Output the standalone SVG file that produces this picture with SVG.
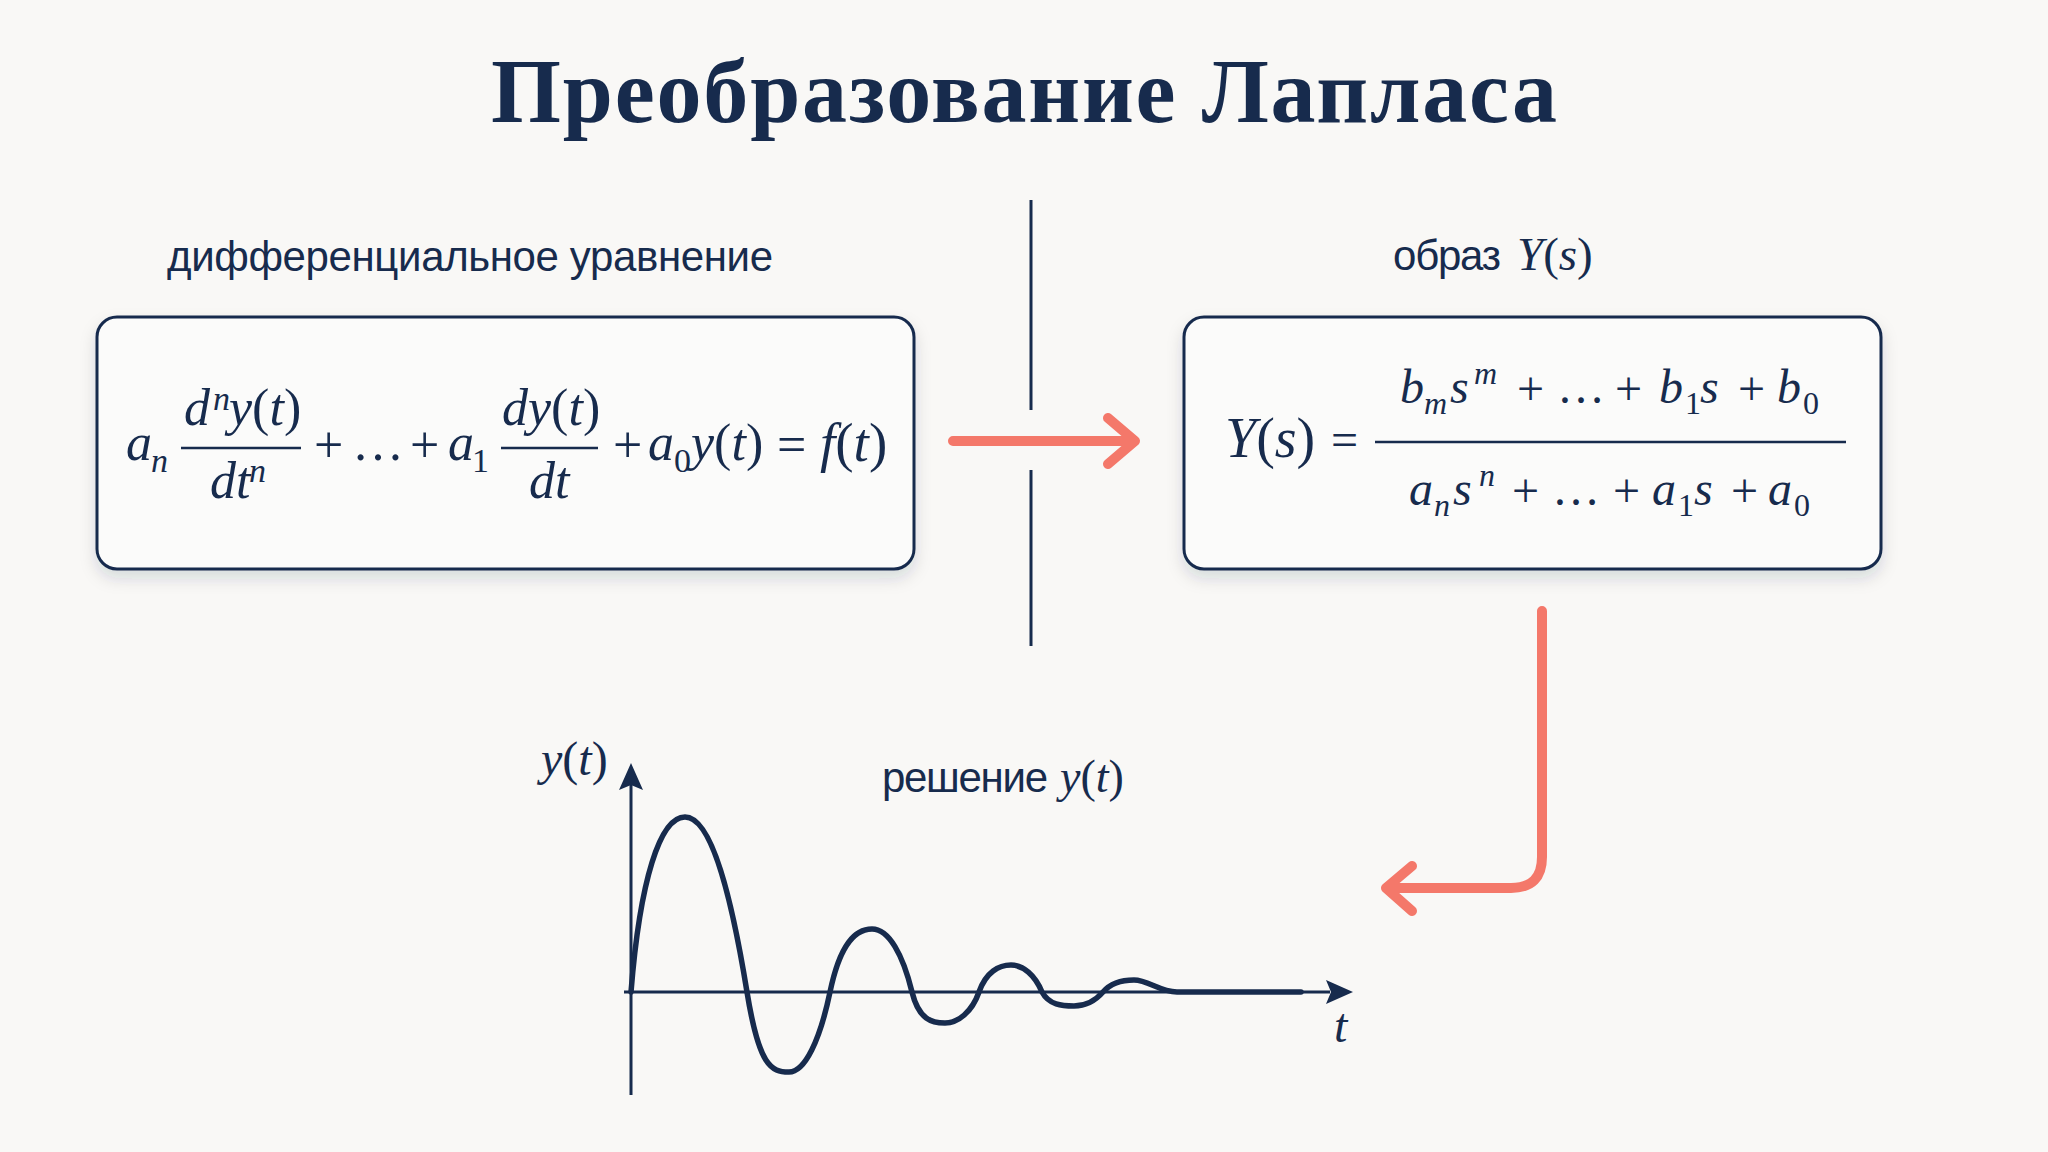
<svg xmlns="http://www.w3.org/2000/svg" width="2048" height="1152" viewBox="0 0 2048 1152">
<defs>
<filter id="sh" x="-10%" y="-10%" width="120%" height="130%">
<feDropShadow dx="0" dy="8" stdDeviation="8" flood-color="#1b2a4a" flood-opacity="0.14"/>
</filter>
<style>
.t{font-family:"Liberation Serif","Times New Roman",serif;fill:#172b4d}
.m{font-family:"Liberation Serif","Times New Roman",serif;fill:#172b4d;font-size:52px}
.mr{font-family:"Liberation Serif","Times New Roman",serif;fill:#172b4d;font-size:48px}
.i{font-style:italic}
.s{font-family:"Liberation Sans",Arial,sans-serif;fill:#172b4d;font-size:42px}
.box{fill:#fbfbfa;stroke:#172b4d;stroke-width:3}
.bar{stroke:#172b4d;stroke-width:2.5}
.red{fill:none;stroke:#f4786a;stroke-width:10;stroke-linecap:round;stroke-linejoin:round}
.ax{stroke:#172b4d;stroke-width:3;fill:none}
.ah{fill:#172b4d}
</style>
</defs>
<rect width="2048" height="1152" fill="#f9f8f6"/>

<text id="title" class="t" x="1024" y="122" font-size="90" font-weight="bold" text-anchor="middle" textLength="1066" lengthAdjust="spacing">Преобразование Лапласа</text>

<line id="divider-top" x1="1031" y1="200" x2="1031" y2="410" stroke="#172b4d" stroke-width="3"/>
<line id="divider-bottom" x1="1031" y1="470" x2="1031" y2="646" stroke="#172b4d" stroke-width="3"/>

<g id="node-ode">
<text class="s" x="167" y="271" textLength="606" lengthAdjust="spacing">дифференциальное уравнение</text>
<rect class="box" x="97" y="317" width="817" height="252" rx="20" filter="url(#sh)"/>
<text class="m"><tspan class="i" x="126" y="460">a</tspan><tspan class="i" x="151" y="472" font-size="34">n</tspan></text>
<text class="m"><tspan class="i" x="184" y="425">d</tspan><tspan class="i" x="213" y="410" font-size="34">n</tspan><tspan class="i" x="229" y="425">y</tspan><tspan>(</tspan><tspan class="i">t</tspan><tspan>)</tspan></text>
<line class="bar" x1="181" y1="448" x2="301" y2="448"/>
<text class="m"><tspan class="i" x="210" y="498">dt</tspan><tspan class="i" x="249" y="482" font-size="34">n</tspan></text>
<text class="m" x="314" y="462">+</text>
<text class="m" x="352" y="460">…</text>
<text class="m" x="410" y="462">+</text>
<text class="m"><tspan class="i" x="448" y="460">a</tspan><tspan x="472" y="472" font-size="34">1</tspan></text>
<text class="m"><tspan class="i" x="502" y="425">dy</tspan><tspan>(</tspan><tspan class="i">t</tspan><tspan>)</tspan></text>
<line class="bar" x1="501" y1="448" x2="598" y2="448"/>
<text class="m" x="529" y="498"><tspan class="i">dt</tspan></text>
<text class="m" x="613" y="462">+</text>
<text class="m"><tspan class="i" x="648" y="460">a</tspan><tspan x="674" y="472" font-size="34">0</tspan><tspan class="i" x="691" y="460">y</tspan><tspan>(</tspan><tspan class="i">t</tspan><tspan>)</tspan></text>
<text class="m" x="777" y="462">=</text>
<text class="m" style="font-size:55px"><tspan class="i" x="820" y="461">f</tspan><tspan>(</tspan><tspan class="i">t</tspan><tspan>)</tspan></text>
</g>

<g id="node-image">
<text class="s" x="1393" y="270" textLength="108" lengthAdjust="spacing">образ</text>
<text class="t" font-size="47" x="1517" y="270"><tspan class="i">Y</tspan>(<tspan class="i">s</tspan>)</text>
<rect class="box" x="1184" y="317" width="697" height="252" rx="20" filter="url(#sh)"/>
<text class="mr" style="font-size:56px"><tspan class="i" x="1225" y="457">Y</tspan><tspan>(</tspan><tspan class="i">s</tspan><tspan>)</tspan></text>
<text class="mr" x="1331" y="456">=</text>
<line class="bar" x1="1375" y1="442" x2="1846" y2="442"/>
<text class="mr"><tspan class="i" x="1400" y="403">b</tspan><tspan class="i" x="1424" y="414" font-size="32">m</tspan><tspan class="i" x="1450" y="403">s</tspan><tspan class="i" x="1474" y="384" font-size="32">m</tspan><tspan x="1517" y="405">+</tspan><tspan x="1557" y="403">…</tspan><tspan x="1615" y="405">+</tspan><tspan class="i" x="1659" y="403">b</tspan><tspan x="1685" y="414" font-size="32">1</tspan><tspan class="i" x="1700" y="403">s</tspan><tspan x="1738" y="405">+</tspan><tspan class="i" x="1777" y="403">b</tspan><tspan x="1803" y="414" font-size="32">0</tspan></text>
<text class="mr"><tspan class="i" x="1409" y="505">a</tspan><tspan class="i" x="1434" y="516" font-size="32">n</tspan><tspan class="i" x="1453" y="505">s</tspan><tspan class="i" x="1479" y="486" font-size="32">n</tspan><tspan x="1512" y="507">+</tspan><tspan x="1552" y="505">…</tspan><tspan x="1613" y="507">+</tspan><tspan class="i" x="1652" y="505">a</tspan><tspan x="1678" y="516" font-size="32">1</tspan><tspan class="i" x="1694" y="505">s</tspan><tspan x="1731" y="507">+</tspan><tspan class="i" x="1768" y="505">a</tspan><tspan x="1794" y="516" font-size="32">0</tspan></text>
</g>

<g id="node-solution">
<text class="s" x="882" y="792" textLength="166" lengthAdjust="spacing">решение</text>
<text class="t" font-size="46" x="1060" y="792"><tspan class="i">y</tspan>(<tspan class="i">t</tspan>)</text>
<text class="t" font-size="48" x="541" y="775"><tspan class="i">y</tspan>(<tspan class="i">t</tspan>)</text>
<text class="t i" font-size="48" x="1334" y="1042">t</text>
<line class="ax" x1="631" y1="1095" x2="631" y2="785"/>
<path class="ah" d="M631,763 L643,790 L631,785 L619,790 Z"/>
<line class="ax" x1="624" y1="992" x2="1330" y2="992"/>
<path class="ah" d="M1353,992 L1326,980 L1331,992 L1326,1004 Z"/>
<path fill="none" stroke="#172b4d" stroke-width="5.5" stroke-linecap="round" d="M631,992 C640,880 660,817 685,817 C712,817 732,900 747,992 C759,1066 771,1072 789,1072 C805,1072 820,1040 830,992 C840,944 855,929 872,929 C889,929 903,955 912,992 C919,1020 932,1023 945,1023 C958,1023 972,1012 979,992 C986,972 999,965 1011,965 C1023,965 1035,975 1042,992 C1049,1005 1062,1006 1074,1006 C1086,1006 1096,1000 1103,992 C1110,984 1122,980 1134,980 C1148,980 1160,992 1177,992 L1301,992"/>
</g>

<g id="connectors">
<path class="red" d="M953,441 L1134,441 M1108,418 L1135,441 L1108,464"/>
<path class="red" d="M1542,611 L1542,857 Q1542,888 1511,888 L1386,888 M1412,866 L1386,888 L1412,911"/>
</g>
</svg>
